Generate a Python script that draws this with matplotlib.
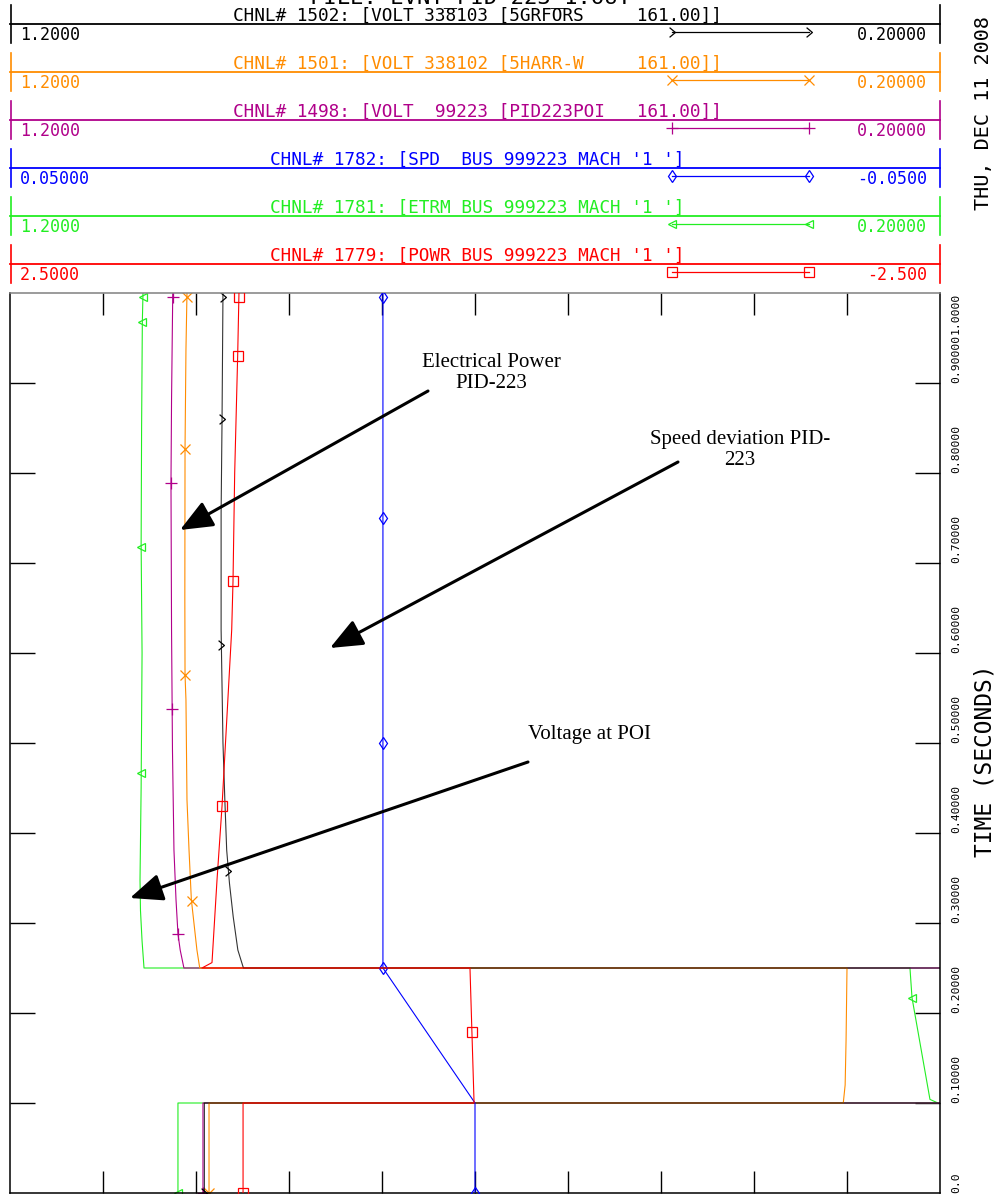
import numpy as np
import matplotlib
matplotlib.use('Agg')
import matplotlib.pyplot as plt
from matplotlib.path import Path

W, H = 1005, 1196

# channel header info (top to bottom)
titles = ["CHNL# 1502: [VOLT 338103 [5GRFORS     161.00]]",
          "CHNL# 1501: [VOLT 338102 [5HARR-W     161.00]]",
          "CHNL# 1498: [VOLT  99223 [PID223POI   161.00]]",
          "CHNL# 1782: [SPD  BUS 999223 MACH '1 ']",
          "CHNL# 1781: [ETRM BUS 999223 MACH '1 ']",
          "CHNL# 1779: [POWR BUS 999223 MACH '1 ']"]
left_vals = [1.2, 1.2, 1.2, 0.05, 1.2, 2.5]
right_vals = [0.2, 0.2, 0.2, -0.05, 0.2, -2.5]
left_labels = ['1.2000', '1.2000', '1.2000', '0.05000', '1.2000', '2.5000']
right_labels = ['0.20000', '0.20000', '0.20000', '-0.0500', '0.20000', '-2.500']
colors = ['#000000', '#ff8c00', '#b0008a', '#0000ff', '#22ee22', '#ff0000']

# time axis
time_ticks = [0.0, 0.1, 0.2, 0.3, 0.4, 0.5, 0.6, 0.7, 0.8, 0.9, 1.0]
time_labels = ['0.0', '0.10000', '0.20000', '0.30000', '0.40000', '0.50000',
               '0.60000', '0.70000', '0.80000', '0.90000', '1.0000']

# CHNL 1502 VOLT 5GRFORS
t_1502 = [0, 0.1, 0.1, 0.25, 0.25, 0.27, 0.307, 0.344, 0.381, 0.437, 0.5, 0.626, 0.756, 0.859, 1.0]
v_1502 = [0.991, 0.991, 0.10, 0.10, 0.949, 0.955, 0.960, 0.964, 0.967, 0.969, 0.971, 0.973, 0.973, 0.972, 0.971]
# CHNL 1501 VOLT 5HARR-W
t_1501 = [0, 0.1, 0.1, 0.12, 0.17, 0.25, 0.25, 0.27, 0.298, 0.326, 0.381, 0.437, 0.548, 0.576, 0.66, 0.827, 0.937, 1.0]
v_1501 = [0.986, 0.986, 0.304, 0.302, 0.301, 0.300, 0.996, 0.999, 1.002, 1.005, 1.0075, 1.0097, 1.0108, 1.0118,
          1.012, 1.0118, 1.0108, 1.0097]
# CHNL 1498 VOLT PID223POI
t_1498 = [0, 0.1, 0.1, 0.25, 0.25, 0.27, 0.288, 0.326, 0.381, 0.492, 0.626, 0.789, 0.881, 1.0]
v_1498 = [0.9925, 0.9925, 0.05, 0.05, 1.013, 1.017, 1.0194, 1.0215, 1.0237, 1.0253, 1.0263, 1.0269, 1.0263, 1.025]
# CHNL 1782 SPD
t_1782 = [0, 0.1, 0.25, 0.5, 0.75, 1.0]
v_1782 = [0.0, 0.0, 0.0099, 0.0099, 0.0099, 0.0099]
# CHNL 1781 ETRM
t_1781 = [0, 0.1, 0.1, 0.104, 0.217, 0.25, 0.25, 0.28, 0.314, 0.348, 0.45, 0.6, 0.72, 0.85, 0.968, 1.0]
v_1781 = [1.0194, 1.0194, 0.2022, 0.2108, 0.2301, 0.2323, 1.0559, 1.058, 1.0597, 1.0602, 1.059, 1.058,
          1.059, 1.0585, 1.0577, 1.057]
# CHNL 1779 POWR
t_1779 = [0, 0.1, 0.1, 0.25, 0.25, 0.256, 0.348, 0.43, 0.626, 0.68, 0.8, 0.93, 1.0]
v_1779 = [1.247, 1.247, 0.005, 0.027, 1.468, 1.414, 1.387, 1.360, 1.308, 1.301, 1.292, 1.276, 1.269]

# times where the plot symbols sit
mk_1502 = [0, 0.358, 0.609, 0.86, 0.996]
mk_1501 = [0, 0.324, 0.576, 0.827, 0.996]
mk_1498 = [0, 0.288, 0.538, 0.789, 0.996]
mk_1782 = [0, 0.25, 0.5, 0.75, 0.996]
mk_1781 = [0, 0.217, 0.467, 0.718, 0.968, 0.996]
mk_1779 = [0, 0.179, 0.43, 0.68, 0.93, 0.996]

series = [(t_1502, v_1502, mk_1502), (t_1501, v_1501, mk_1501), (t_1498, v_1498, mk_1498),
          (t_1782, v_1782, mk_1782), (t_1781, v_1781, mk_1781), (t_1779, v_1779, mk_1779)]

chev = Path([(-0.6, 1), (0.6, 0), (-0.6, -1)], [Path.MOVETO, Path.LINETO, Path.LINETO])
markers = [chev, 'x', '+', 'd', '<', 's']
msizes = [7, 7, 8, 6, 6, 7]

mono = 'DejaVu Sans Mono'

fig = plt.figure(figsize=(W / 100, H / 100), dpi=100)

ax = fig.add_axes([10 / W, 3 / H, 930 / W, 900 / H])
ax_s = ax.twiny()
ax_p = ax.twiny()
axes_for = [ax, ax, ax, ax_s, ax, ax_p]

ax.set_xlim(left_vals[0], right_vals[0])
ax_s.set_xlim(left_vals[3], right_vals[3])
ax_p.set_xlim(left_vals[5], right_vals[5])
ax.set_ylim(0, 1)
for a in (ax_s, ax_p):
    a.axis('off')

# draw the last channel first so the black trace ends on top
for i in [4, 5, 2, 3, 1, 0]:
    t, v, mk = series[i]
    a = axes_for[i]
    a.plot(v, t, color=colors[i], lw=0.8, alpha=0.8 if i == 0 else 1.0)
    a.plot(np.interp(mk, t, v), mk, ls='none', marker=markers[i], ms=msizes[i],
           mfc='none', mec=colors[i], mew=0.9)

ax.set_xticks(np.arange(1.1, 0.25, -0.1))
ax.set_yticks(time_ticks[1:-1])
ax.tick_params(axis='x', direction='in', length=16, width=1, top=True, bottom=True,
               labelbottom=False, labeltop=False)
ax.tick_params(axis='y', direction='in', length=18, width=1, left=True, right=True,
               labelleft=False, labelright=False)
for s in ax.spines.values():
    s.set_linewidth(1.1)
ax.spines['top'].set_color('#808080')

# time labels on the right side
for tt, lab in zip(time_ticks, time_labels):
    ax.text(1.0 + 16 / 930, tt, lab, transform=ax.get_yaxis_transform(), rotation=90,
            ha='center', va='top' if tt == 1.0 else 'bottom', family=mono, fontsize=8.2)

# overlay in pixel coordinates for header, side text and notes
hx = fig.add_axes([0, 0, 1, 1], zorder=5)
hx.set_xlim(0, W)
hx.set_ylim(H, 0)
hx.axis('off')
hx.patch.set_alpha(0)

hx.text(470, 3, 'FILE: EVNT_PID-223_1.OUT', ha='center', va='baseline', family=mono, fontsize=16)

for i in range(6):
    ly = 24 + 48 * i
    c = colors[i]
    hx.plot([10, 940], [ly, ly], color=c, lw=1.3)
    hx.plot([11, 11], [ly - 19, ly + 19], color=c, lw=1.2)
    hx.plot([940, 940], [ly - 19, ly + 19], color=c, lw=1.2)
    hx.text(477, ly - 3, titles[i], ha='center', va='baseline', color=c, family=mono, fontsize=12.8)
    hx.text(20, ly + 16, left_labels[i], ha='left', va='baseline', color=c, family=mono, fontsize=12)
    hx.text(927, ly + 16, right_labels[i], ha='right', va='baseline', color=c, family=mono, fontsize=12)
    hx.plot([672, 809], [ly + 8, ly + 8], color=c, lw=0.9, marker=markers[i], ms=msizes[i],
            mfc='none', mec=c, mew=0.9)

hx.text(983, 113, 'THU, DEC 11 2008', rotation=90, ha='center', va='center', family=mono, fontsize=14.5)
hx.text(985, 761, 'TIME (SECONDS)', rotation=90, ha='center', va='center', family=mono, fontsize=16.5)

# notes with arrows
serif = 'Liberation Serif'
hx.text(491, 373, 'Electrical Power\nPID-223', ha='center', va='center', family=serif, fontsize=15,
        linespacing=1.15)
hx.text(740, 450, 'Speed deviation PID-\n223', ha='center', va='center', family=serif, fontsize=15,
        linespacing=1.15)
hx.text(590, 735, 'Voltage at POI', ha='center', va='center', family=serif, fontsize=15)

arrow = dict(arrowstyle='-|>,head_length=1.0,head_width=0.42', lw=2.2, color='k',
             mutation_scale=20, shrinkA=0, shrinkB=0)
hx.annotate('', xy=(180, 530), xytext=(428, 391), arrowprops=arrow)
hx.annotate('', xy=(330, 648), xytext=(678, 462), arrowprops=arrow)
hx.annotate('', xy=(130, 898), xytext=(528, 762), arrowprops=arrow)

fig.savefig('out.png', dpi=100)
